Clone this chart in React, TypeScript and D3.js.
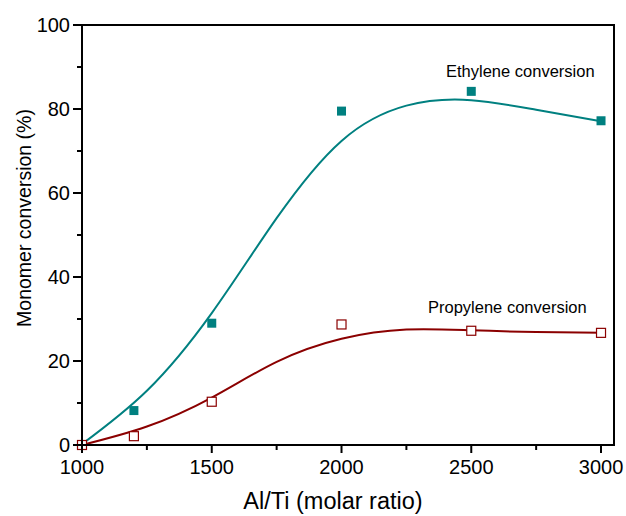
import React from 'react';
import * as d3 from 'd3';

// measured points
const ratios = [1000, 1200, 1500, 2000, 2500, 3000];
const ethylene = [0, 8.2, 29.0, 79.5, 84.2, 77.2];
const propylene = [0, 2.1, 10.3, 28.7, 27.2, 26.7];

// fitted curves
const fitX = [1000, 1250, 1500, 1750, 2000, 2250, 2500, 2750, 3000];
const ethFit = [0.2, 12.9, 31.4, 54.0, 72.4, 80.8, 82.1, 79.8, 77.1];
const proFit = [0, 4.4, 11.3, 19.8, 25.3, 27.5, 27.3, 26.9, 26.7];

const xTicks = [1000, 1500, 2000, 2500, 3000];
const xMinor = [1250, 1750, 2250, 2750];
const yTicks = [0, 20, 40, 60, 80, 100];
const yMinor = [10, 30, 50, 70, 90];

const TEAL = '#008080';
const RED = '#8b0000';
const FONT = "'Liberation Sans', Arial, sans-serif";

export default function App() {
  const width = 626;
  const height = 516;
  const left = 82, right = 614, top = 25, bottom = 445;

  const x = d3.scaleLinear().domain([1000, 3050]).range([left, right]);
  const y = d3.scaleLinear().domain([0, 100]).range([bottom, top]);

  const line = d3.line<[number, number]>()
    .x(d => x(d[0]))
    .y(d => y(d[1]))
    .curve(d3.curveNatural);

  const ethPath = line(fitX.map((v, i) => [v, ethFit[i]] as [number, number])) || '';
  const proPath = line(fitX.map((v, i) => [v, proFit[i]] as [number, number])) || '';

  const sq = 9;

  return (
    <svg width={width} height={height} style={{ position: 'absolute', left: 0, top: 0, fontFamily: FONT }}>
      <rect width={width} height={height} fill="#fff" />

      <path d={ethPath} fill="none" stroke={TEAL} strokeWidth={2} />
      <path d={proPath} fill="none" stroke={RED} strokeWidth={2} />

      {ratios.map((r, i) => (
        <rect key={'e' + i} x={x(r) - sq / 2} y={y(ethylene[i]) - sq / 2}
          width={sq} height={sq} fill={TEAL} />
      ))}
      {ratios.map((r, i) => (
        <rect key={'p' + i} x={x(r) - sq / 2} y={y(propylene[i]) - sq / 2}
          width={sq} height={sq} fill="#fff" stroke={RED} strokeWidth={1.2} />
      ))}

      {/* frame */}
      <rect x={left} y={top} width={right - left} height={bottom - top}
        fill="none" stroke="#000" strokeWidth={2} />

      {/* x ticks */}
      {xTicks.map(t => (
        <g key={'xt' + t}>
          <line x1={x(t)} x2={x(t)} y1={bottom} y2={bottom + 8} stroke="#000" strokeWidth={2} />
          <text x={x(t)} y={bottom + 29} fontSize={20} textAnchor="middle">{t}</text>
        </g>
      ))}
      {xMinor.map(t => (
        <line key={'xm' + t} x1={x(t)} x2={x(t)} y1={bottom} y2={bottom + 5} stroke="#000" strokeWidth={2} />
      ))}

      {/* y ticks */}
      {yTicks.map(t => (
        <g key={'yt' + t}>
          <line x1={left - 9} x2={left} y1={y(t)} y2={y(t)} stroke="#000" strokeWidth={2} />
          <text x={left - 12} y={y(t) + 7} fontSize={20} textAnchor="end">{t}</text>
        </g>
      ))}
      {yMinor.map(t => (
        <line key={'ym' + t} x1={left - 5} x2={left} y1={y(t)} y2={y(t)} stroke="#000" strokeWidth={2} />
      ))}

      <text x={333} y={509} fontSize={23.5} textAnchor="middle">Al/Ti (molar ratio)</text>
      <text transform="translate(31,218) rotate(-90)" fontSize={19.5} textAnchor="middle">Monomer conversion (%)</text>

      <text x={446} y={77} fontSize={16.5}>Ethylene conversion</text>
      <text x={428} y={313} fontSize={16.5}>Propylene conversion</text>
    </svg>
  );
}
